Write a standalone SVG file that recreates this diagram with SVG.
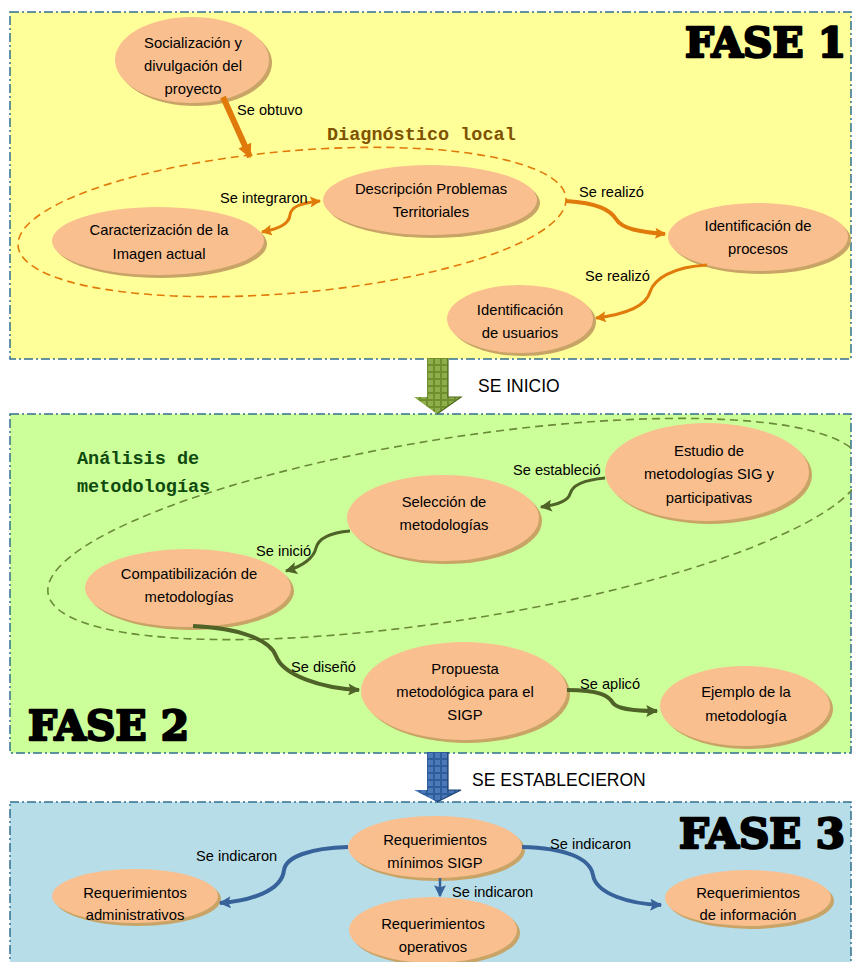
<svg xmlns="http://www.w3.org/2000/svg" width="852" height="962" viewBox="0 0 852 962">
<defs>
<style>
.panel{stroke:#31708F;stroke-width:1.5;stroke-dasharray:9,3,2,3}
.node{fill:#FABF8F}
.shadow{fill:#C9A467}
.nt{font-family:"Liberation Sans",Arial,sans-serif;font-size:14.8px;fill:#000;text-anchor:middle}
.lbl{font-family:"Liberation Sans",Arial,sans-serif;font-size:14.6px;fill:#000}
.fase{font-family:"DejaVu Serif",serif;font-weight:bold;font-size:41px;fill:#000;stroke:#000;stroke-width:2.4;stroke-linejoin:round}
.mono{font-family:"Liberation Mono","DejaVu Sans Mono",monospace;font-weight:bold;font-size:18.5px}
.big{font-family:"Liberation Sans",Arial,sans-serif;font-size:17.5px;fill:#000}
.co{fill:none;stroke:#E07A0A}
.cg{fill:none;stroke:#4F6228}
.cb{fill:none;stroke:#37629A}
</style>
<marker id="ao" viewBox="0 0 10 10" refX="9" refY="5" markerWidth="12" markerHeight="11" markerUnits="userSpaceOnUse" orient="auto-start-reverse"><path d="M0,0 L10,5 L0,10 L2,5 Z" fill="#E07A0A"/></marker>
<marker id="aobig" viewBox="0 0 10 10" refX="9" refY="5" markerWidth="16" markerHeight="14" markerUnits="userSpaceOnUse" orient="auto"><path d="M0,0 L10,5 L0,10 Z" fill="#E07A0A"/></marker>
<marker id="ag" viewBox="0 0 10 10" refX="9" refY="5" markerWidth="13" markerHeight="12" markerUnits="userSpaceOnUse" orient="auto"><path d="M0,0 L10,5 L0,10 L2,5 Z" fill="#4F6228"/></marker>
<marker id="ab" viewBox="0 0 10 10" refX="9" refY="5" markerWidth="13" markerHeight="12" markerUnits="userSpaceOnUse" orient="auto"><path d="M0,0 L10,5 L0,10 L2,5 Z" fill="#37629A"/></marker>
<pattern id="pg" width="7" height="7" patternUnits="userSpaceOnUse" x="427" y="358"><rect width="7" height="7" fill="#6F8E2E"/><rect x="1" y="1" width="5" height="5" fill="#8DAE4A"/></pattern>
<pattern id="pb" width="7" height="7" patternUnits="userSpaceOnUse" x="427" y="752"><rect width="7" height="7" fill="#2F5C9A"/><rect x="1" y="1" width="5" height="5" fill="#4A78B8"/></pattern>
</defs>

<g id="fase1">
<rect class="panel" x="10" y="12" width="841" height="347" fill="#FFFF99"/>
<text class="fase" x="685" y="57" textLength="161" lengthAdjust="spacingAndGlyphs">FASE 1</text>
<ellipse id="diagnostico" cx="292" cy="222" rx="275" ry="71" transform="rotate(-5 292 222)" fill="none" stroke="#E07A0A" stroke-width="1.6" stroke-dasharray="8,5"/>
<text class="mono" x="327" y="140" fill="#7F5200">Diagnóstico local</text>
</g>

<g id="fase2">
<rect class="panel" x="10" y="414" width="841" height="339" fill="#CCFF99"/>
<text class="fase" x="28" y="740" textLength="161" lengthAdjust="spacingAndGlyphs">FASE 2</text>
<ellipse id="analisis" cx="455" cy="529" rx="412" ry="91" transform="rotate(-9 455 529)" fill="none" stroke="#6A8A3A" stroke-width="1.6" stroke-dasharray="8,5"/>
<text class="mono" x="77" y="464" fill="#0F4A0F">Análisis de</text>
<text class="mono" x="77" y="492" fill="#0F4A0F">metodologías</text>
</g>

<g id="fase3">
<rect class="panel" x="10" y="802" width="841" height="170" fill="#B7DDE8"/>
<text class="fase" x="679" y="848" textLength="166" lengthAdjust="spacingAndGlyphs">FASE 3</text>
</g>

<g id="flecha1">
<path d="M427,358 H448 V397 H461 L437,414 L414,397 H427 Z" fill="url(#pg)"/>
<path d="M448,358 V397 H461 L437,414" fill="none" stroke="#4E6A1E" stroke-width="1.2"/>
<text class="big" x="478" y="392">SE INICIO</text>
</g>
<g id="flecha2">
<path d="M427,752 H448 V790 H461 L437,802 L414,790 H427 Z" fill="url(#pb)"/>
<path d="M448,752 V790 H461 L437,802" fill="none" stroke="#1F4270" stroke-width="1.2"/>
<text class="big" x="472" y="786">SE ESTABLECIERON</text>
</g>

<g id="n-socializacion">
<ellipse class="shadow" cx="195" cy="63" rx="77" ry="43"/>
<ellipse class="node" cx="192" cy="60" rx="77" ry="43"/>
<text class="nt" x="193" y="48">Socialización y</text>
<text class="nt" x="193" y="71">divulgación del</text>
<text class="nt" x="193" y="94">proyecto</text>
</g>
<g id="n-caracterizacion">
<ellipse class="shadow" cx="161" cy="244" rx="106" ry="34"/>
<ellipse class="node" cx="158" cy="241" rx="106" ry="34"/>
<text class="nt" x="159" y="235">Caracterización de la</text>
<text class="nt" x="159" y="259">Imagen actual</text>
</g>
<g id="n-descripcion">
<ellipse class="shadow" cx="433" cy="203" rx="107" ry="35"/>
<ellipse class="node" cx="430" cy="200" rx="107" ry="35"/>
<text class="nt" x="431" y="194">Descripción Problemas</text>
<text class="nt" x="431" y="217">Territoriales</text>
</g>
<g id="n-procesos">
<ellipse class="shadow" cx="761" cy="240" rx="90" ry="34"/>
<ellipse class="node" cx="758" cy="237" rx="90" ry="34"/>
<text class="nt" x="758" y="231">Identificación de</text>
<text class="nt" x="758" y="254">procesos</text>
</g>
<g id="n-usuarios">
<ellipse class="shadow" cx="523" cy="322" rx="73" ry="34"/>
<ellipse class="node" cx="520" cy="319" rx="73" ry="34"/>
<text class="nt" x="520" y="315">Identificación</text>
<text class="nt" x="520" y="338">de usuarios</text>
</g>

<g id="n-estudio">
<ellipse class="shadow" cx="710" cy="475" rx="102" ry="49"/>
<ellipse class="node" cx="707" cy="472" rx="102" ry="49"/>
<text class="nt" x="709" y="456">Estudio de</text>
<text class="nt" x="709" y="479">metodologías SIG y</text>
<text class="nt" x="709" y="503">participativas</text>
</g>
<g id="n-seleccion">
<ellipse class="shadow" cx="446" cy="521" rx="96" ry="43"/>
<ellipse class="node" cx="443" cy="518" rx="96" ry="43"/>
<text class="nt" x="444" y="507">Selección de</text>
<text class="nt" x="444" y="530">metodologías</text>
</g>
<g id="n-compatibilizacion">
<ellipse class="shadow" cx="191" cy="591" rx="103" ry="39"/>
<ellipse class="node" cx="188" cy="588" rx="103" ry="39"/>
<text class="nt" x="189" y="579">Compatibilización de</text>
<text class="nt" x="189" y="602">metodologías</text>
</g>
<g id="n-propuesta">
<ellipse class="shadow" cx="467" cy="694" rx="103" ry="49"/>
<ellipse class="node" cx="464" cy="691" rx="103" ry="49"/>
<text class="nt" x="465" y="674">Propuesta</text>
<text class="nt" x="465" y="697">metodológica para el</text>
<text class="nt" x="465" y="720">SIGP</text>
</g>
<g id="n-ejemplo">
<ellipse class="shadow" cx="748" cy="709" rx="85" ry="40"/>
<ellipse class="node" cx="745" cy="706" rx="85" ry="40"/>
<text class="nt" x="746" y="697">Ejemplo de la</text>
<text class="nt" x="746" y="721">metodología</text>
</g>

<g id="n-minimos">
<ellipse class="shadow" cx="438" cy="850" rx="87" ry="31"/>
<ellipse class="node" cx="435" cy="847" rx="87" ry="31"/>
<text class="nt" x="435" y="845">Requerimientos</text>
<text class="nt" x="435" y="868">mínimos SIGP</text>
</g>
<g id="n-administrativos">
<ellipse class="shadow" cx="138" cy="899" rx="83" ry="27"/>
<ellipse class="node" cx="135" cy="896" rx="83" ry="27"/>
<text class="nt" x="135" y="898">Requerimientos</text>
<text class="nt" x="135" y="920">administrativos</text>
</g>
<g id="n-operativos">
<ellipse class="shadow" cx="436" cy="933" rx="84" ry="33"/>
<ellipse class="node" cx="433" cy="930" rx="84" ry="33"/>
<text class="nt" x="433" y="929">Requerimientos</text>
<text class="nt" x="433" y="952">operativos</text>
</g>
<g id="n-informacion">
<ellipse class="shadow" cx="751" cy="901" rx="83" ry="28"/>
<ellipse class="node" cx="748" cy="898" rx="83" ry="28"/>
<text class="nt" x="748" y="898">Requerimientos</text>
<text class="nt" x="748" y="920">de información</text>
</g>

<g id="connectors">
<path class="co" d="M223,97 L250,157" stroke-width="6" marker-end="url(#aobig)"/>
<path class="co" d="M262,232 C282,228 289,223 290,215 C291,207 300,203 320,201" stroke-width="3" marker-start="url(#ao)" marker-end="url(#ao)"/>
<path class="co" d="M566,201 C598,203 610,210 616,219 C622,229 640,232 665,234" stroke-width="4" marker-end="url(#ao)"/>
<path class="co" d="M707,265 C672,267 654,279 650,292 C646,306 628,314 596,318" stroke-width="3" marker-end="url(#ao)"/>
<path class="cg" d="M605,478 C582,480 572,486 570,494 C568,501 556,505 541,507" stroke-width="3" marker-end="url(#ag)"/>
<path class="cg" d="M350,531 C326,533 318,540 316,548 C314,557 304,566 286,571" stroke-width="3" marker-end="url(#ag)"/>
<path class="cg" d="M193,626 C240,628 270,640 276,656 C283,675 320,688 359,690" stroke-width="4" marker-end="url(#ag)"/>
<path class="cg" d="M567,690 C600,690 609,696 613,703 C618,710 638,711 657,711" stroke-width="4" marker-end="url(#ag)"/>
<path class="cb" d="M348,847 C310,848 286,857 284,870 C282,891 250,901 220,903" stroke-width="4" marker-end="url(#ab)"/>
<path class="cb" d="M522,847 C565,848 590,858 593,875 C596,894 630,904 661,905" stroke-width="4" marker-end="url(#ab)"/>
<path class="cb" d="M440,878 L440,896" stroke-width="2.5" marker-end="url(#ab)"/>
<text class="lbl" x="237" y="115">Se obtuvo</text>
<text class="lbl" x="220" y="203">Se integraron</text>
<text class="lbl" x="579" y="197">Se realizó</text>
<text class="lbl" x="585" y="281">Se realizó</text>
<text class="lbl" x="513" y="475">Se estableció</text>
<text class="lbl" x="256" y="556">Se inició</text>
<text class="lbl" x="291" y="672">Se diseñó</text>
<text class="lbl" x="580" y="689">Se aplicó</text>
<text class="lbl" x="196" y="861">Se indicaron</text>
<text class="lbl" x="550" y="849">Se indicaron</text>
<text class="lbl" x="452" y="897">Se indicaron</text>
</g>
</svg>
